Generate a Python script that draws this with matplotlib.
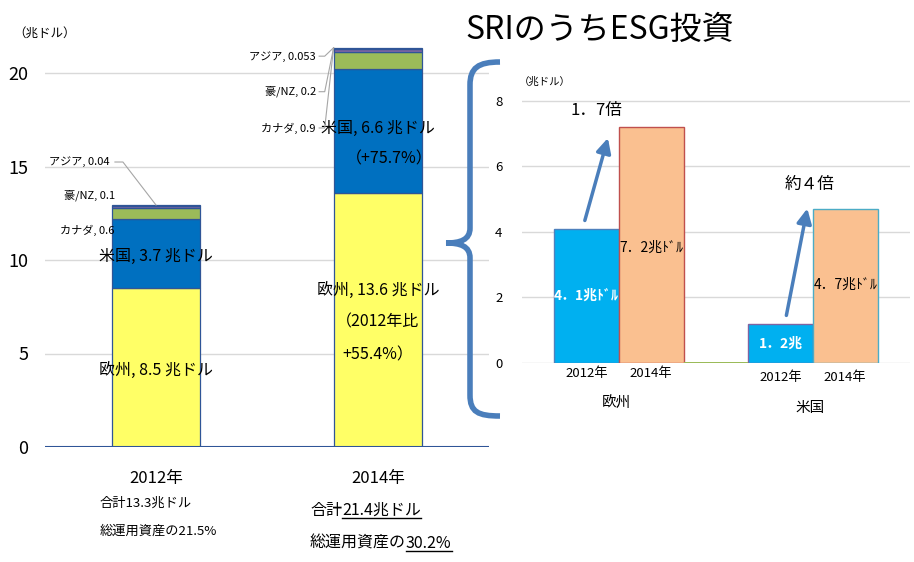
import numpy as np
import matplotlib
matplotlib.use("Agg")
import matplotlib.pyplot as plt
from matplotlib.path import Path
from matplotlib.patches import PathPatch

plt.rcParams['font.family'] = ['Noto Sans CJK JP', 'DejaVu Sans']

# ---- data: left stacked chart (SRI total, 兆ドル) ----
years = ["2012年", "2014年"]
regions = ["欧州", "米国", "カナダ", "豪/NZ", "アジア"]
europe = [8.5, 13.6]
usa = [3.7, 6.6]
canada = [0.6, 0.9]
aunz = [0.1, 0.2]
asia = [0.04, 0.053]
small_labels = [["カナダ, 0.6", "豪/NZ, 0.1", "アジア, 0.04"],
                ["カナダ, 0.9", "豪/NZ, 0.2", "アジア, 0.053"]]
totals_text = ["合計13.3兆ドル", "合計21.4兆ドル"]
share_text = ["総運用資産の21.5%", "総運用資産の30.2%"]

# ---- data: right chart (ESG, 兆ドル) ----
esg_regions = ["欧州", "米国"]
esg_2012 = [4.1, 1.2]
esg_2014 = [7.2, 4.7]
esg_2012_lbl = ["4．1兆ﾄﾞﾙ", "1．2兆"]
esg_2014_lbl = ["7．2兆ﾄﾞﾙ", "4．7兆ﾄﾞﾙ"]
ratio_lbl = ["1．7倍", "約４倍"]

W, H = 914, 562
fig = plt.figure(figsize=(W / 100, H / 100), dpi=100)


def fx(x):
    return x / W


def fy(y):
    return 1 - y / H


# ================= left chart =================
ax = fig.add_axes([fx(45), fy(447), (489 - 45) / W, (447 - 35.6) / H])
x = np.arange(len(years))
bw = 0.4
cols = ["#FFFF66", "#0070C0", "#9BBB59", "#8064A2", "#1F497D"]
series = [europe, usa, canada, aunz, asia]
bottom = np.zeros(2)
for s, c in zip(series, cols):
    ax.bar(x, s, bw, bottom=bottom, color=c, edgecolor="#2F5597", lw=0.9, zorder=3)
    bottom += np.array(s)
tops = bottom

ax.set_xlim(-0.5, 1.5)
ax.set_ylim(0, 22)
ax.set_yticks([0, 5, 10, 15, 20])
ax.tick_params(axis='y', length=0, labelsize=13, pad=12)
ax.set_xticks([])
ax.grid(axis='y', color="#D9D9D9", lw=1)
ax.set_axisbelow(True)
for sp in ax.spines.values():
    sp.set_visible(False)
ax.axhline(0, color="#2F5597", lw=1.5, zorder=4)

# in-bar labels
fs = 11.5
ax.text(x[0], europe[0] + usa[0] * 0.46, f"米国, {usa[0]} 兆ドル", ha='center', va='center', fontsize=fs)
ax.text(x[0], europe[0] * 0.485, f"欧州, {europe[0]} 兆ドル", ha='center', va='center', fontsize=fs)
ax.text(x[1], europe[1] + usa[1] * 0.52, f"米国, {usa[1]} 兆ドル", ha='center', va='center', fontsize=fs)
ax.text(x[1] + 0.05, europe[1] + usa[1] * 0.27, "（+75.7%）", ha='center', va='center', fontsize=fs)
ax.text(x[1], europe[1] * 0.617, f"欧州, {europe[1]} 兆ドル", ha='center', va='center', fontsize=fs)
ax.text(x[1], europe[1] * 0.49, "（2012年比", ha='center', va='center', fontsize=fs)
ax.text(x[1], europe[1] * 0.362, "+55.4%）", ha='center', va='center', fontsize=fs)

# small labels with leader lines
lc = "#A6A6A6"
ax.text(-0.185, 11.6, small_labels[0][0], ha='right', va='center', fontsize=8)
ax.text(-0.185, 13.48, small_labels[0][1], ha='right', va='center', fontsize=8)
ax.text(-0.207, 15.24, small_labels[0][2], ha='right', va='center', fontsize=8)
ax.plot([-0.185, -0.149, x[0]], [15.24, 15.24, tops[0]], color=lc, lw=0.8, zorder=5)
for ty, lbl in zip([17.06, 19.0, 20.9], small_labels[1]):
    ax.text(0.72, ty, lbl, ha='right', va='center', fontsize=8)
    ax.plot([0.735, 0.76, x[1] - bw / 2], [ty, ty, tops[1]], color=lc, lw=0.8, zorder=5)

fig.text(fx(45), fy(33), "（兆ドル）", ha='center', va='center', fontsize=9)

# bottom texts
for i, cx in enumerate([156, 378]):
    fig.text(fx(cx), fy(478), years[i], ha='center', va='center', fontsize=12)
fig.text(fx(100), fy(503), totals_text[0], ha='left', va='center', fontsize=9.5)
fig.text(fx(100), fy(531), share_text[0], ha='left', va='center', fontsize=9.5)

# 2014 with underlined numbers
t1 = fig.text(fx(310), fy(510), "合計", ha='left', va='center', fontsize=11.5)
t2 = fig.text(fx(310), fy(543), "総運用資産の", ha='left', va='center', fontsize=11.5)
fig.canvas.draw()
r = fig.canvas.get_renderer()
for t, s in [(t1, totals_text[1][2:]), (t2, share_text[1][6:])]:
    bb = t.get_window_extent(r)
    u = fig.text(bb.x1 / W, t.get_position()[1], s, ha='left', va='center', fontsize=11.5)
    fig.canvas.draw()
    ub = u.get_window_extent(r)
    fig.add_artist(plt.Line2D([ub.x0 / W, ub.x1 / W], [(ub.y0 + 1) / H] * 2,
                              color='black', lw=1, transform=fig.transFigure))

# ================= right chart =================
ax2 = fig.add_axes([fx(522), fy(363), 388 / W, 282 / H])
gx = np.array([1.5, 4.5])
ax2.bar(gx - 0.5, esg_2012, 1.0, color="#00B0F0", edgecolor=["#4F81BD", "#8064A2"], lw=1, zorder=3)
ax2.bar(gx + 0.5, esg_2014, 1.0, color="#FAC090", edgecolor=["#C0504D", "#4BACC6"], lw=1, zorder=3)
ax2.bar([3.0], [0.04], 1.0, color="#9BBB59", zorder=3)
ax2.set_xlim(0, 6)
ax2.set_ylim(0, 8.61)
ax2.set_yticks([0, 2, 4, 6, 8])
ax2.tick_params(axis='y', length=0, labelsize=9.5, pad=14)
ax2.set_xticks([])
ax2.grid(axis='y', color="#D9D9D9", lw=1)
ax2.set_axisbelow(True)
for sp in ax2.spines.values():
    sp.set_visible(False)

for i in range(2):
    ax2.text(gx[i] - 0.5, esg_2012[i] / 2, esg_2012_lbl[i], ha='center', va='center',
             fontsize=10, color='white', fontweight='bold', zorder=5)
    ax2.text(gx[i] + 0.5, esg_2014[i] * [0.49, 0.51][i], esg_2014_lbl[i], ha='center', va='center',
             fontsize=10, color='black', zorder=5)
    ax2.annotate("", xy=(gx[i] - 0.5 + [0.34, 0.42][i], esg_2014[i] + [-0.25, 0.1][i]),
                 xytext=(gx[i] - 0.5 - [0.04, -0.08][i], esg_2012[i] + 0.17),
                 arrowprops=dict(arrowstyle='-|>', color="#4A7EBB", lw=2.5, mutation_scale=22),
                 zorder=6)
ax2.text(gx[0] - 0.35, esg_2014[0] + 0.25, ratio_lbl[0], ha='center', va='bottom', fontsize=12)
ax2.text(gx[1] - 0.05, esg_2014[1] + 0.5, ratio_lbl[1], ha='center', va='bottom', fontsize=12)

lab_y = [374, 378]
for i in range(2):
    base = 522 + gx[i] * 388 / 6
    fig.text(fx(base - 32), fy(lab_y[i]), "2012年", ha='center', va='center', fontsize=9.5)
    fig.text(fx(base + 32), fy(lab_y[i]), "2014年", ha='center', va='center', fontsize=9.5)
    fig.text(fx(base - 3), fy([404, 408][i]), esg_regions[i], ha='center', va='center', fontsize=10.5)

fig.text(fx(545), fy(82), "（兆ドル）", ha='center', va='center', fontsize=7.5)
fig.text(fx(600), fy(30), "SRIのうちESG投資", ha='center', va='center', fontsize=23)

# brace
verts = [(500, 62), (478, 62), (470, 68), (470, 85),
         (470, 228),
         (470, 240), (460, 243), (446, 243),
         (460, 243), (470, 246), (470, 258),
         (470, 395),
         (470, 412), (478, 416), (500, 416)]
codes = [Path.MOVETO, Path.CURVE4, Path.CURVE4, Path.CURVE4,
         Path.LINETO,
         Path.CURVE4, Path.CURVE4, Path.CURVE4,
         Path.CURVE4, Path.CURVE4, Path.CURVE4,
         Path.LINETO,
         Path.CURVE4, Path.CURVE4, Path.CURVE4]
brace = Path([(fx(a), fy(b)) for a, b in verts], codes)
fig.add_artist(PathPatch(brace, fill=False, ec="#4A7EBB", lw=4, capstyle='butt',
                         transform=fig.transFigure))

fig.savefig("out.png", dpi=100)
